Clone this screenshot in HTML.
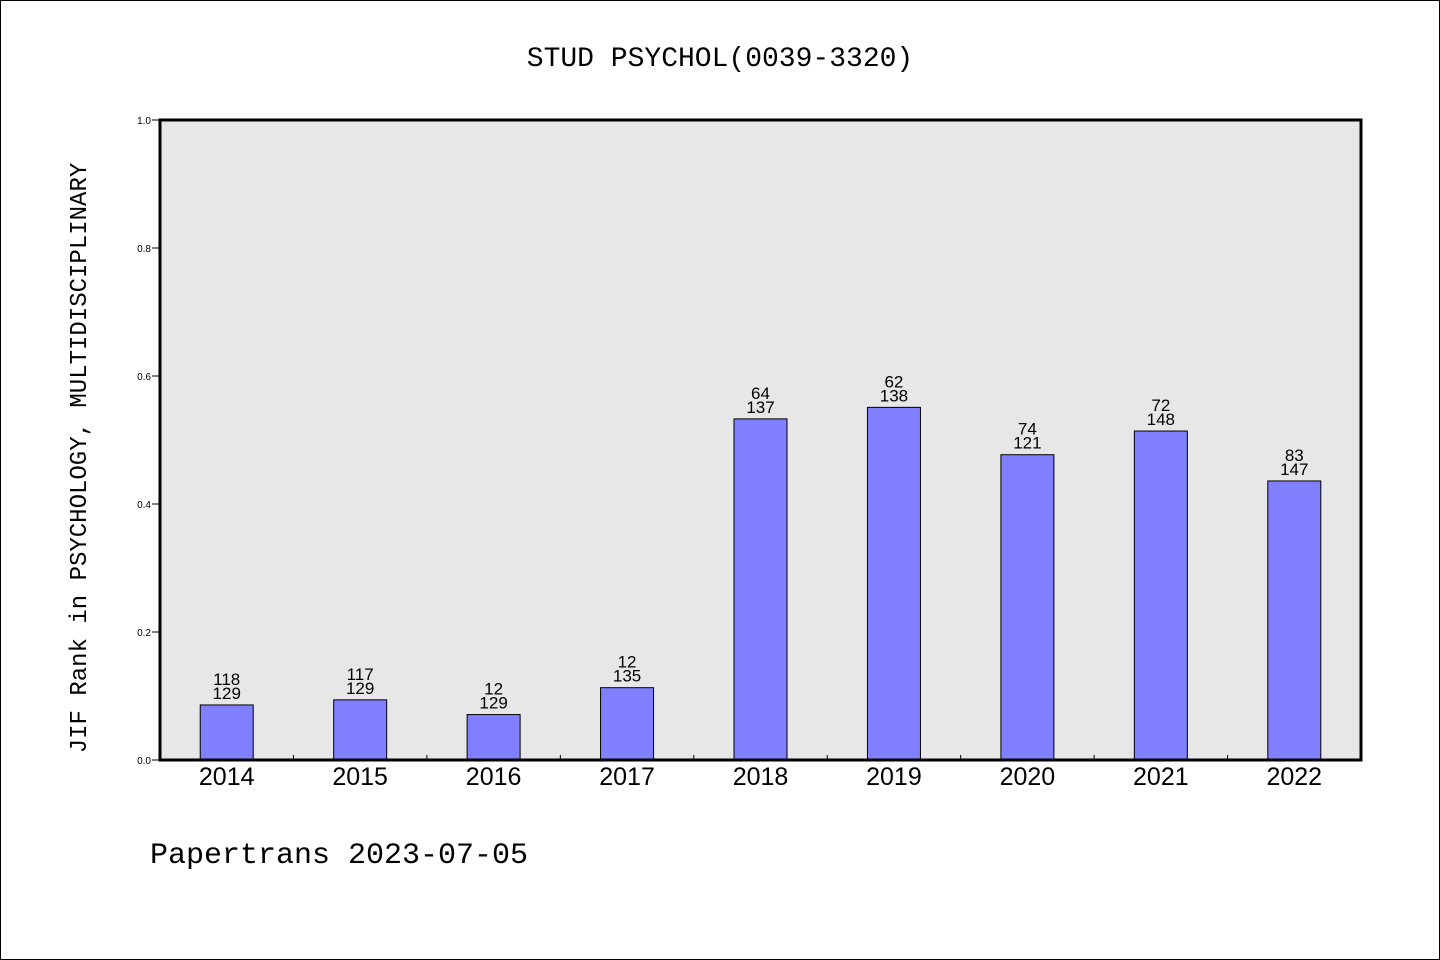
<!DOCTYPE html>
<html><head><meta charset="utf-8"><style>
body{margin:0;background:#fff}
svg{display:block}
text{font-family:"Liberation Mono","WenQuanYi Zen Hei",monospace}
.s{font-family:"Liberation Sans","DejaVu Sans",sans-serif}
</style></head><body>
<svg id="chart" width="1440" height="960">
<rect x="0.5" y="0.5" width="1439" height="959" fill="#fff" stroke="#000"/>
<text x="720" y="66" text-anchor="middle" font-size="28">STUD PSYCHOL(0039-3320)</text>
<rect x="160" y="120" width="1201" height="640" fill="#e7e7e7"/>
<g id="marks"></g>
<rect x="160" y="120" width="1201" height="640" fill="none" stroke="#000" stroke-width="3"/>
<text transform="translate(86,458) rotate(-90)" text-anchor="middle" font-size="24">JIF Rank in PSYCHOLOGY, MULTIDISCIPLINARY</text>
<text x="150" y="863" font-size="30">Papertrans 2023-07-05</text>
</svg>
<script>
const categories=["2014","2015","2016","2017","2018","2019","2020","2021","2022"];
const values=[0.086,0.094,0.071,0.113,0.533,0.551,0.477,0.514,0.436];
const ranks=["118","117","12","12","64","62","74","72","83"];
const totals=["129","129","129","135","137","138","121","148","147"];
const yTicks=[0,0.2,0.4,0.6,0.8,1.0];
const X0=160,W=1201,Y0=760,H=640;
const slot=W/categories.length;
const y=v=>Y0-v*H;
const xc=i=>X0+slot*(i+0.5);
const ns="http://www.w3.org/2000/svg";
const g=document.getElementById('marks');
function mk(t,a){const e=document.createElementNS(ns,t);for(const k in a)e.setAttribute(k,a[k]);g.appendChild(e);return e;}
yTicks.forEach(t=>{
  const l=mk('line',{x1:152,x2:160,y1:y(t),y2:y(t),stroke:'#000','stroke-width':1});
  
  
  const tx=mk('text',{x:151,y:y(t)+4,'text-anchor':'end','font-size':10,'class':'s'});
  tx.textContent=t.toFixed(1);
  
  
});
for(let i=1;i<categories.length;i++){
  const l=mk('line',{x1:X0+slot*i,x2:X0+slot*i,y1:Y0,y2:Y0-5,stroke:'#000','stroke-width':1});
  
  
}
categories.forEach((c,i)=>{
  const bw=53;
  const b=mk('rect',{x:xc(i)-bw/2,y:y(values[i]),width:bw,height:values[i]*H,fill:'#8080ff',stroke:'#000','stroke-width':1});
  
  
  const t1=mk('text',{x:xc(i),y:y(values[i])-20,'text-anchor':'middle','font-size':17,'class':'s'});
  t1.textContent=ranks[i];
  
  
  const t2=mk('text',{x:xc(i),y:y(values[i])-6,'text-anchor':'middle','font-size':17,'class':'s'});
  t2.textContent=totals[i];
  
  
  const xl=mk('text',{x:xc(i),y:785,'text-anchor':'middle','font-size':25,'class':'s'});
  xl.textContent=c;
  
  
});
</script>
</body></html>
